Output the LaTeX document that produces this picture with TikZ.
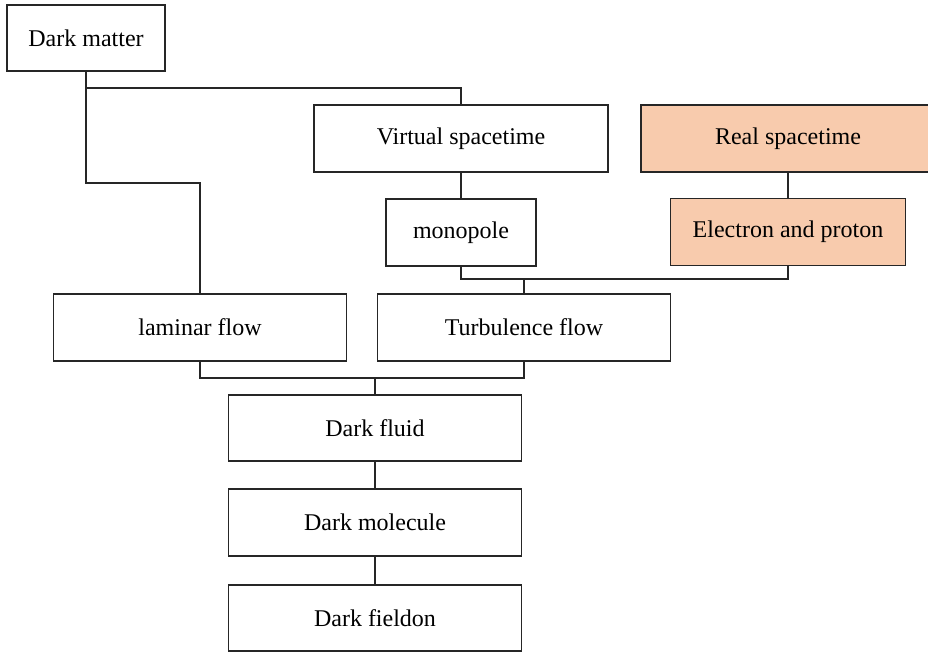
\documentclass[tikz,border=0pt]{standalone}
\usepackage{fontspec}
\setmainfont{Liberation Serif}
\definecolor{peach}{HTML}{F8CBAD}
\definecolor{ln}{HTML}{262626}
\begin{document}
\begin{tikzpicture}[x=1pt,y=-1pt,
  box/.style={draw=ln,line width=1.2pt,rectangle,inner sep=0pt,minimum height=67pt,font=\fontsize{24}{28}\selectfont,text=black},
  conn/.style={draw=ln,line width=1.2pt}]
\useasboundingbox (0,0) rectangle (928,652);
\clip (0,0) rectangle (928,652);
\fill[white] (0,0) rectangle (928,652);
\node[box,minimum width=158pt,minimum height=66pt] (dm) at (86,38) {Dark matter};
\node[box,minimum width=294pt] (vs) at (461,138.5) {Virtual spacetime};
\node[box,minimum width=294pt,fill=peach] (rs) at (788,138.5) {Real spacetime};
\node[box,minimum width=150pt] (mono) at (461,232.5) {monopole};
\node[box,minimum width=235pt,fill=peach] (ep) at (788,232) {Electron and proton};
\node[box,minimum width=293pt] (lam) at (200,327.5) {laminar flow};
\node[box,minimum width=293pt] (turb) at (524,327.5) {Turbulence flow};
\node[box,minimum width=293pt,minimum height=66pt] (fluid) at (375,428) {Dark fluid};
\node[box,minimum width=293pt] (mol) at (375,522.5) {Dark molecule};
\node[box,minimum width=293pt,minimum height=66pt] (field) at (375,618) {Dark fieldon};
\coordinate (j1) at (86,88);
\coordinate (j2) at (86,183);
\coordinate (j3) at (524,279);
\coordinate (j4) at (375,378);
\draw[conn] (dm.south) -- (j2) -| (lam.north);
\draw[conn] (j1) -| (vs.north);
\draw[conn] (vs.south) -- (mono.north);
\draw[conn] (rs.south) -- (ep.north);
\draw[conn] (mono.south) |- (j3) -| (ep.south);
\draw[conn] (j3) -- (turb.north);
\draw[conn] (lam.south) |- (j4) -| (turb.south);
\draw[conn] (j4) -- (fluid.north);
\draw[conn] (fluid.south) -- (mol.north);
\draw[conn] (mol.south) -- (field.north);
\end{tikzpicture}
\end{document}
